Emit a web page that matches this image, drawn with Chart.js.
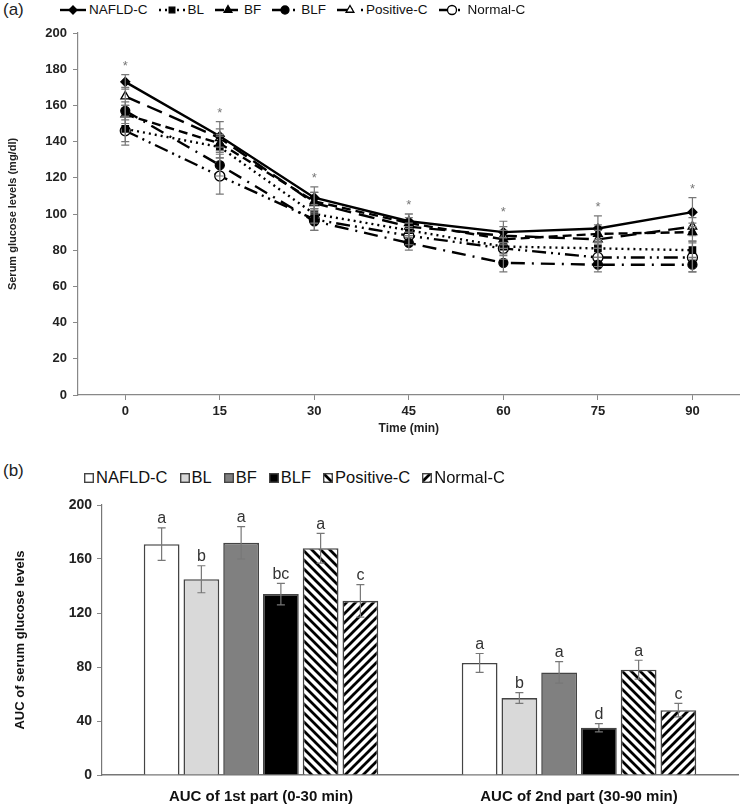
<!DOCTYPE html>
<html>
<head>
<meta charset="utf-8">
<script src="https://cdn.jsdelivr.net/npm/chart.js@4.4.1/dist/chart.umd.min.js"></script>
<style>
  body { margin: 0; background: #fff; font-family: "Liberation Sans", Arial, sans-serif; }
  #wrap { position: relative; width: 746px; height: 805px; overflow: hidden; }
  canvas.chart { position: absolute; left: 0; }
  .tag { position: absolute; left: 3px; font-size: 17px; color: #222; }
  .legend { position: absolute; display: flex; align-items: center; color: #111; white-space: nowrap; }
  .legend span.item { display: flex; align-items: center; }
  #legA { left: 60px; top: 2px; font-size: 13.5px; }
  #legA span.item { margin-right: 11px; }
  #legA canvas { margin-right: 3px; }
  #legB { left: 84px; top: 468px; font-size: 16.5px; }
  #legB span.item { margin-right: 12px; }
  #legB canvas { margin-right: 2px; }
</style>
</head>
<body>
<div id="wrap">
  <div class="tag" style="top:0px">(a)</div>
  <div class="legend" id="legA"></div>
  <canvas class="chart" id="chartA" width="746" height="440" style="top:0"></canvas>

  <div class="tag" style="top:461px">(b)</div>
  <div class="legend" id="legB"></div>
  <canvas class="chart" id="chartB" width="746" height="360" style="top:445px"></canvas>
</div>

<script>
// ---- datos panel (a): glucosa en el tiempo ----
const timeLabels = ['0', '15', '30', '45', '60', '75', '90'];
const seriesNames = ['NAFLD-C', 'BL', 'BF', 'BLF', 'Positive-C', 'Normal-C'];

const glucNafld    = [173, 143, 109, 96, 90, 92, 101];
const glucBL       = [147, 137, 100, 91, 82, 81, 80];
const glucBF       = [155, 139, 107, 95, 86, 89, 90];
const glucBLF      = [157, 127, 96, 84, 73, 72, 72];
const glucPositive = [165, 142, 106, 93, 88, 86, 93];
const glucNormal   = [146, 121, 97, 88, 81, 76, 76];

const errNafld    = [4, 8, 6, 4, 6, 7, 8];
const errBL       = [7, 6, 5, 4, 5, 5, 5];
const errBF       = [5, 5, 5, 5, 5, 5, 5];
const errBLF      = [5, 6, 5, 4, 5, 4, 4];
const errPositive = [5, 5, 6, 5, 5, 5, 5];
const errNormal   = [8, 10, 6, 5, 6, 5, 8];

const yTicksA = { min: 0, max: 200, step: 20 };

// ---- datos panel (b): AUC ----
const aucLabels = ['AUC of 1st part (0-30 min)', 'AUC of 2nd part (30-90 min)'];
const aucNafld    = [171, 83];
const aucBL       = [145, 57];
const aucBF       = [172, 76];
const aucBLF      = [134, 35];
const aucPositive = [168, 78];
const aucNormal   = [129, 48];

const aucErrNafld    = [12, 7];
const aucErrBL       = [10, 4];
const aucErrBF       = [12, 8];
const aucErrBLF      = [8, 3];
const aucErrPositive = [11, 7];
const aucErrNormal   = [12, 5];

const letNafld    = ['a', 'a'];
const letBL       = ['b', 'b'];
const letBF       = ['a', 'a'];
const letBLF      = ['bc', 'd'];
const letPositive = ['a', 'a'];
const letNormal   = ['c', 'c'];

const yTicksB = { min: 0, max: 200, step: 40 };

const FONT = '"Liberation Sans", Arial, sans-serif';

// tramas diagonales para las barras rayadas
function hatch(dir) {
    const s = 9;
    const c = document.createElement('canvas');
    c.width = s; c.height = s;
    const g = c.getContext('2d');
    g.fillStyle = '#fff';
    g.fillRect(0, 0, s, s);
    g.strokeStyle = '#000';
    g.lineWidth = 2.8;
    g.beginPath();
    if (dir > 0) { // '/'
        g.moveTo(-1, s + 1); g.lineTo(s + 1, -1);
        g.moveTo(-3, 3); g.lineTo(3, -3);
        g.moveTo(s - 3, s + 3); g.lineTo(s + 3, s - 3);
    } else {      // '\'
        g.moveTo(-1, -1); g.lineTo(s + 1, s + 1);
        g.moveTo(-3, s - 3); g.lineTo(3, s + 3);
        g.moveTo(s - 3, -3); g.lineTo(s + 3, 3);
    }
    g.stroke();
    return g.createPattern(c, 'repeat');
}

// barras de error + letras / asteriscos
const errorBars = {
    id: 'errorBars',
    afterDatasetsDraw(chart) {
        const ctx = chart.ctx;
        const yScale = chart.scales.y;
        ctx.save();
        chart.data.datasets.forEach((ds, i) => {
            if (!ds.errors) return;
            const meta = chart.getDatasetMeta(i);
            meta.data.forEach((el, j) => {
                const v = ds.data[j], e = ds.errors[j];
                const x = el.x;
                const yTop = yScale.getPixelForValue(v + e);
                const yBot = yScale.getPixelForValue(v - e);
                ctx.strokeStyle = '#777';
                ctx.lineWidth = 1.2;
                ctx.setLineDash([]);
                ctx.beginPath();
                ctx.moveTo(x, yTop); ctx.lineTo(x, yBot);
                ctx.moveTo(x - 4, yTop); ctx.lineTo(x + 4, yTop);
                ctx.moveTo(x - 4, yBot); ctx.lineTo(x + 4, yBot);
                ctx.stroke();
                const mark = ds.letters ? ds.letters[j] : (ds.star ? '*' : null);
                if (mark) {
                    ctx.fillStyle = ds.letters ? '#333' : '#777';
                    ctx.font = ds.letters ? '16px ' + FONT : '13px ' + FONT;
                    ctx.textAlign = 'center';
                    ctx.textBaseline = 'bottom';
                    ctx.fillText(mark, x, yTop - (ds.letters ? 1 : 2));
                }
            });
        });
        ctx.restore();
    }
};

// ---------- panel (a) ----------
const lineStyles = [
    { data: glucNafld,    err: errNafld,    dash: [],               point: 'rectRot',  fill: '#000', r: 4.5, star: true },
    { data: glucBL,       err: errBL,       dash: [2, 4],           point: 'rect',     fill: '#000', r: 4.5 },
    { data: glucBF,       err: errBF,       dash: [9, 5],           point: 'triangle', fill: '#000', r: 5 },
    { data: glucBLF,      err: errBLF,      dash: [14, 7, 2, 7],    point: 'circle',   fill: '#000', r: 4.5 },
    { data: glucPositive, err: errPositive, dash: [16, 8],          point: 'triangle', fill: '#fff', r: 5 },
    { data: glucNormal,   err: errNormal,   dash: [14, 5, 2, 5, 2, 5], point: 'circle', fill: '#fff', r: 5 }
];

const chartA = new Chart(document.getElementById('chartA'), {
    type: 'line',
    data: {
        labels: timeLabels,
        datasets: lineStyles.map((s, i) => ({
            label: seriesNames[i],
            data: s.data,
            errors: s.err,
            star: s.star,
            borderColor: '#000',
            borderWidth: 2.4,
            borderDash: s.dash,
            pointStyle: s.point,
            pointRadius: s.r,
            pointBackgroundColor: s.fill,
            pointBorderColor: '#000',
            pointBorderWidth: 1.3,
            fill: false,
            tension: 0
        }))
    },
    options: {
        responsive: false,
        devicePixelRatio: 1,
        animation: false,
        layout: { padding: { top: 33, right: 6, left: 0, bottom: 0 } },
        plugins: { legend: { display: false }, tooltip: { enabled: false } },
        scales: {
            x: {
                offset: true,
                grid: { drawOnChartArea: false, drawTicks: true, tickLength: 5, color: '#888' },
                border: { color: '#888', width: 1.2 },
                ticks: { color: '#222', font: { family: FONT, size: 13, weight: 'bold' }, padding: 4 },
                title: { display: true, text: 'Time (min)', color: '#222', font: { family: FONT, size: 12, weight: 'bold' }, padding: { top: 2 } },
                afterFit(scale) { scale.height = 45; }
            },
            y: {
                min: yTicksA.min, max: yTicksA.max,
                grid: { drawOnChartArea: false, drawTicks: true, tickLength: 5, color: '#888' },
                border: { color: '#888', width: 1.2 },
                ticks: { stepSize: yTicksA.step, color: '#222', font: { family: FONT, size: 13, weight: 'bold' }, padding: 6 },
                title: { display: true, text: 'Serum glucose levels (mg/dl)', color: '#222', font: { family: FONT, size: 11, weight: 'bold' }, padding: { top: 6, bottom: 4 } },
                afterFit(scale) { scale.width = 78; }
            }
        }
    },
    plugins: [errorBars]
});

// ---------- panel (b) ----------
const barFills = ['#ffffff', '#d9d9d9', '#808080', '#000000', hatch(-1), hatch(1)];
const barSets = [
    { data: aucNafld,    err: aucErrNafld,    lett: letNafld },
    { data: aucBL,       err: aucErrBL,       lett: letBL },
    { data: aucBF,       err: aucErrBF,       lett: letBF },
    { data: aucBLF,      err: aucErrBLF,      lett: letBLF },
    { data: aucPositive, err: aucErrPositive, lett: letPositive },
    { data: aucNormal,   err: aucErrNormal,   lett: letNormal }
];

const chartB = new Chart(document.getElementById('chartB'), {
    type: 'bar',
    data: {
        labels: aucLabels,
        datasets: barSets.map((s, i) => ({
            label: seriesNames[i],
            data: s.data,
            errors: s.err,
            letters: s.lett,
            backgroundColor: barFills[i],
            borderColor: '#444',
            borderWidth: 1.6,
            categoryPercentage: 0.75,
            barPercentage: 0.9
        }))
    },
    options: {
        responsive: false,
        devicePixelRatio: 1,
        animation: false,
        layout: { padding: { top: 60, right: 8, left: 0, bottom: 0 } },
        plugins: { legend: { display: false }, tooltip: { enabled: false } },
        scales: {
            x: {
                grid: { display: false },
                border: { color: '#777', width: 1.4 },
                ticks: { color: '#111', font: { family: FONT, size: 15, weight: 'bold' }, padding: 5 },
                afterFit(scale) { scale.height = 30; }
            },
            y: {
                min: yTicksB.min, max: yTicksB.max,
                grid: { drawOnChartArea: false, drawTicks: true, tickLength: 5, color: '#888' },
                border: { color: '#777', width: 1.2 },
                ticks: { stepSize: yTicksB.step, color: '#222', font: { family: FONT, size: 14, weight: 'bold' }, padding: 5 },
                title: { display: true, text: 'AUC of serum glucose levels', color: '#111', font: { family: FONT, size: 13, weight: 'bold' }, padding: { top: 13, bottom: 0 } },
                afterFit(scale) { scale.width = 102; }
            }
        }
    },
    plugins: [errorBars]
});

// ---------- leyendas HTML (estilo de cada dataset) ----------
function leyendaLineas(chart, cont) {
    chart.data.datasets.forEach(ds => {
        const item = document.createElement('span');
        item.className = 'item';
        const c = document.createElement('canvas');
        c.width = 26; c.height = 14;
        const g = c.getContext('2d');
        g.strokeStyle = '#000';
        g.lineWidth = 2.4;
        g.setLineDash(ds.borderDash);
        g.beginPath(); g.moveTo(0, 7); g.lineTo(26, 7); g.stroke();
        g.setLineDash([]);
        g.fillStyle = ds.pointBackgroundColor;
        g.lineWidth = 1.3;
        Chart.helpers.drawPoint(g, { pointStyle: ds.pointStyle, radius: ds.pointRadius - 0.5, borderWidth: 1.3, rotation: 0 }, 13, 7);
        item.appendChild(c);
        item.appendChild(document.createTextNode(ds.label));
        cont.appendChild(item);
    });
}

function leyendaBarras(chart, cont) {
    chart.data.datasets.forEach(ds => {
        const item = document.createElement('span');
        item.className = 'item';
        const c = document.createElement('canvas');
        c.width = 10; c.height = 10;
        const g = c.getContext('2d');
        g.fillStyle = ds.backgroundColor;
        g.fillRect(0, 0, 10, 10);
        g.strokeStyle = '#444';
        g.lineWidth = 1.4;
        g.strokeRect(0.7, 0.7, 8.6, 8.6);
        item.appendChild(c);
        item.appendChild(document.createTextNode(ds.label));
        cont.appendChild(item);
    });
}

leyendaLineas(chartA, document.getElementById('legA'));
leyendaBarras(chartB, document.getElementById('legB'));
</script>
</body>
</html>
